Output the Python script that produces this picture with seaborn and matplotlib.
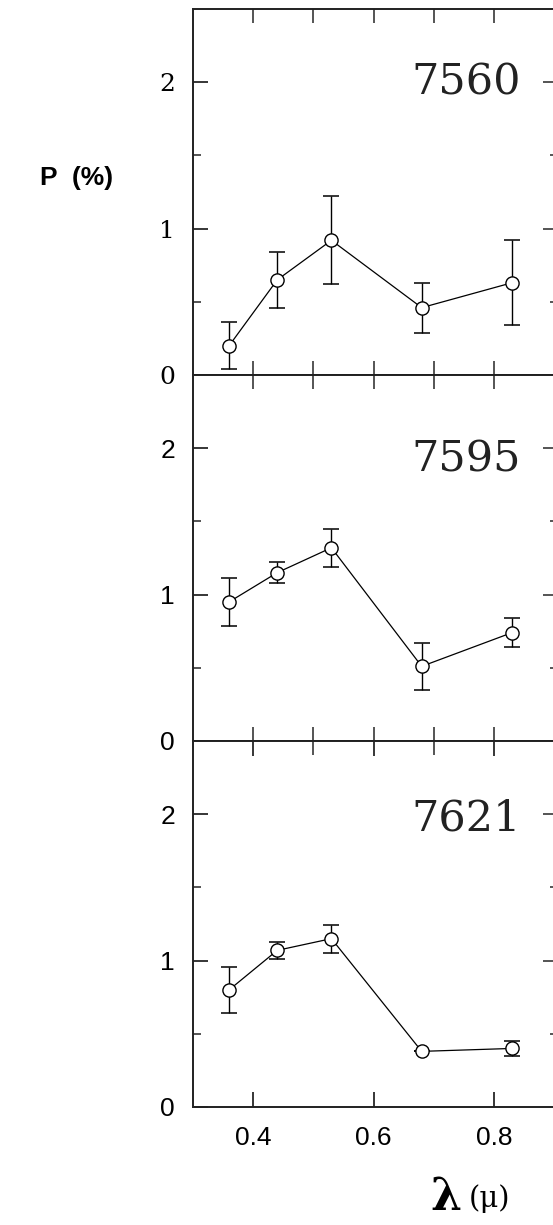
import numpy as np
import pandas as pd
import matplotlib
matplotlib.use("Agg")
import matplotlib.pyplot as plt
import seaborn as sns

# ---- data ----
wavelength = [0.36, 0.44, 0.53, 0.68, 0.83]
labels = ["7560", "7595", "7621"]
p_7560 = [0.20, 0.65, 0.92, 0.46, 0.63]
e_7560 = [0.16, 0.19, 0.30, 0.17, 0.29]
p_7595 = [0.95, 1.15, 1.32, 0.51, 0.74]
e_7595 = [0.165, 0.07, 0.13, 0.16, 0.10]
p_7621 = [0.80, 1.07, 1.15, 0.38, 0.40]
e_7621 = [0.155, 0.06, 0.095, 0.0, 0.05]
label_y = [2.0, 1.92, 1.97]
y_ticks = [0, 1, 2]
x_ticks_top = [0.4, 0.5, 0.6, 0.7, 0.8]
x_ticks_bottom = [0.4, 0.6, 0.8]

series = [p_7560, p_7595, p_7621]
errors = [e_7560, e_7595, e_7621]

sns.set_theme(style="ticks")
plt.rcParams["font.family"] = ["Liberation Sans", "DejaVu Sans"]
plt.rcParams["axes.linewidth"] = 1.2

fig = plt.figure(figsize=(5.53, 12.25), dpi=100)
left, right, top, bottom = 193 / 553, 1.002, 1 - 9 / 1225, 1 - 1107 / 1225
h = (top - bottom) / 3

for i in range(3):
    ax = fig.add_axes([left, top - (i + 1) * h, right - left, h])
    df = pd.DataFrame({"lam": wavelength, "P": series[i]})
    ax.errorbar(wavelength, series[i], yerr=errors[i], fmt="none",
                ecolor="black", elinewidth=1.0, capsize=6, capthick=1.1, zorder=2)
    sns.lineplot(data=df, x="lam", y="P", ax=ax, color="black", linewidth=0.9,
                 marker="o", markersize=9.5, markerfacecolor="white",
                 markeredgecolor="black", markeredgewidth=1.0, zorder=3)
    ax.set_xlim(0.3, 0.9)
    ax.set_ylim(0, 2.5)
    ax.set_xlabel("")
    ax.set_ylabel("")
    for s in ax.spines.values():
        s.set_color("black")
    ax.set_yticks(y_ticks)
    ax.set_yticks([0.5, 1.5], minor=True)
    if i == 0:
        ax.set_yticklabels([str(t) for t in y_ticks], family="DejaVu Serif", fontsize=18)
    else:
        ax.set_yticklabels([str(t) for t in y_ticks], fontsize=19)
    ax.tick_params(axis="y", which="major", direction="in", length=11, width=1.1,
                   left=True, right=False, pad=13, colors="black")
    ax.tick_params(axis="y", which="minor", direction="in", length=6, width=1.1,
                   left=True, right=False)
    # right-side ticks
    ax2 = ax.twinx()
    ax2.set_ylim(0, 2.5)
    ax2.set_yticks(y_ticks[1:])
    ax2.set_yticks([0.5, 1.5], minor=True)
    ax2.tick_params(axis="y", which="major", direction="in", length=8, width=1.1,
                    labelright=False)
    ax2.tick_params(axis="y", which="minor", direction="in", length=3, width=1.1)
    ax2.grid(False)

    if i < 2:
        ax.set_xticks(x_ticks_top)
        ax.tick_params(axis="x", which="major", direction="in", length=10, width=1.1,
                       top=True, bottom=True, labelbottom=False)
    else:
        ax.set_xticks(x_ticks_bottom)
        ax.set_xticks([0.5, 0.7], minor=True)
        ax.set_xticklabels(["0.4", "0.6", "0.8"], fontsize=19)
        ax.tick_params(axis="x", which="major", direction="in", length=11, width=1.1,
                       top=True, bottom=True, pad=14, colors="black")
        ax.tick_params(axis="x", which="minor", direction="in", length=10, width=1.1,
                       top=True, bottom=False)
    ax.text(0.845, label_y[i], labels[i], ha="right", va="center",
            family="DejaVu Serif", fontsize=31, color="#222222")

fig.text(40 / 553, 1 - 178 / 1225, "P  (%)", ha="left", va="center",
         fontsize=19, fontweight="bold", color="black")
fig.text(430 / 553, 1 - 1197 / 1225, "λ", ha="left", va="center",
         family="DejaVu Serif", fontsize=32, fontweight="bold", color="black")
fig.text(469 / 553, 1 - 1199 / 1225, "(μ)", ha="left", va="center",
         family="DejaVu Serif", fontsize=21, color="black")

fig.savefig("out.png", dpi=100, facecolor="white")
